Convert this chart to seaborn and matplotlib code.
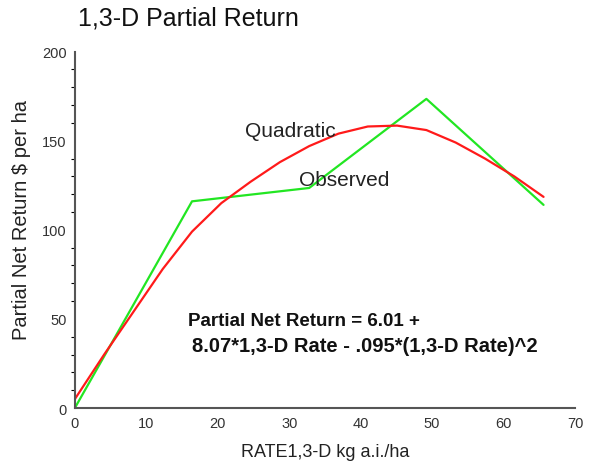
import numpy as np
import pandas as pd
import seaborn as sns
from matplotlib import pyplot as plt
from matplotlib.ticker import MultipleLocator

# observed partial net return at each rate
obs_rate = [0, 16.4, 32.8, 49.2, 65.6]
obs_return = [0, 116, 123.5, 173.5, 114]

# fitted quadratic
quad_rate = [0, 4.1, 8.2, 12.3, 16.4, 20.5, 24.6, 28.7, 32.8, 36.9, 41.0, 45.1,
             49.2, 53.3, 57.4, 61.5, 65.6]
quad_return = [5, 30, 54, 78, 99, 115, 127, 138, 147, 154, 158, 158.5,
               156, 149, 140, 130, 118.5]

sns.set_style("white")
plt.rcParams['font.family'] = ['Liberation Sans', 'DejaVu Sans']

obs = pd.DataFrame({'rate': obs_rate, 'ret': obs_return})
quad = pd.DataFrame({'rate': quad_rate, 'ret': quad_return})

fig = plt.figure(figsize=(5.94, 4.64), dpi=100)
ax = fig.add_axes([0.126, 0.1185, 0.842, 0.768])

sns.lineplot(data=obs, x='rate', y='ret', ax=ax, color='#22e622', lw=1.6, sort=False)
sns.lineplot(data=quad, x='rate', y='ret', ax=ax, color='#ff1a1a', lw=1.6, sort=False)

ax.set_xlim(0, 70)
ax.set_ylim(0, 200)
ax.xaxis.set_major_locator(MultipleLocator(10))
ax.yaxis.set_major_locator(MultipleLocator(50))
ax.yaxis.set_minor_locator(MultipleLocator(10))
ax.tick_params(axis='both', which='major', length=4, width=1.5, color='black',
               labelsize=10.5, labelcolor='#333333', pad=2)
ax.tick_params(axis='y', which='minor', length=3, width=0.8, color='black', left=True)
sns.despine(ax=ax)
for s in ['left', 'bottom']:
    ax.spines[s].set_color('#555555')
    ax.spines[s].set_linewidth(1.5)

ax.set_xlabel('RATE1,3-D kg a.i./ha', fontsize=13, color='#222222', labelpad=9)
ax.set_ylabel('Partial Net Return \\$ per ha', fontsize=14.5, color='#222222', labelpad=8)
ax.yaxis.label.set_y(0.53)

ax.text(30.1, 155.5, 'Quadratic', fontsize=15, color='#222222', ha='center', va='center')
ax.text(37.7, 128, 'Observed', fontsize=15, color='#222222', ha='center', va='center')
ax.text(15.8, 49, 'Partial Net Return = 6.01 +', fontsize=13.5, fontweight='bold',
        color='#111111', ha='left', va='center')
ax.text(16.4, 35, '8.07*1,3-D Rate - .095*(1,3-D Rate)^2', fontsize=14.5, fontweight='bold',
        color='#111111', ha='left', va='center')

fig.text(0.131, 0.96, '1,3-D Partial Return', fontsize=18, color='#111111', ha='left', va='center')

fig.savefig('out.png', dpi=100)
